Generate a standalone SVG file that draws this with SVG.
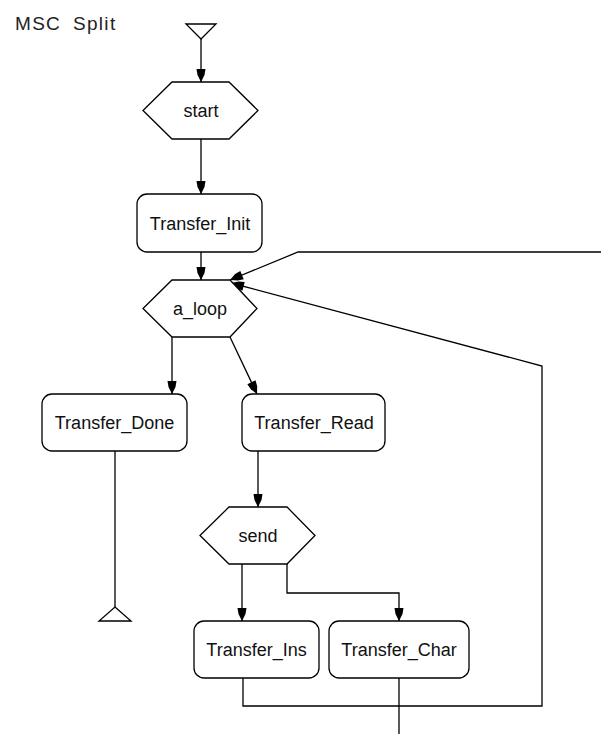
<svg xmlns="http://www.w3.org/2000/svg" width="601" height="734" viewBox="0 0 601 734">
  <style>
    .shape { fill: #fff; stroke: #000; stroke-width: 1.3; }
    .edge { fill: none; stroke: #000; stroke-width: 1.3; }
    .label { font-family: "Liberation Sans", Arial, sans-serif; font-size: 18px; fill: #111; text-anchor: middle; }
    .title { font-family: "Liberation Sans", Arial, sans-serif; font-size: 19px; fill: #222; letter-spacing: 1.3px; }
  </style>
  <defs>
    <marker id="arrow" viewBox="-15 -5 16 10" markerWidth="16" markerHeight="10" refX="0" refY="0" orient="auto" markerUnits="userSpaceOnUse">
      <path d="M0,0 L-7,-3.5 L-13,-4.5 L-13,4.5 L-7,3.5 Z" fill="#000"/>
    </marker>
  </defs>
  <rect width="601" height="734" fill="#fff"/>

  <text class="title" x="15" y="30">MSC<tspan x="73">Split</tspan></text>

  <!-- connectors -->
  <g id="connectors">
    <polyline class="edge" points="201,39 201,82" marker-end="url(#arrow)"/>
    <polyline class="edge" points="201,139 201,194" marker-end="url(#arrow)"/>
    <polyline class="edge" points="201,252 201,280" marker-end="url(#arrow)"/>
    <polyline class="edge" points="601,252 298,252 230,280" marker-end="url(#arrow)"/>
    <polyline class="edge" points="243,678 243,706 542,706 542,366 231,283" marker-end="url(#arrow)"/>
    <polyline class="edge" points="399,678 399,734"/>
    <polyline class="edge" points="172,337 172,394" marker-end="url(#arrow)"/>
    <polyline class="edge" points="230,337 257,394" marker-end="url(#arrow)"/>
    <polyline class="edge" points="115,451 115,608"/>
    <polyline class="edge" points="258,451 258,507" marker-end="url(#arrow)"/>
    <polyline class="edge" points="242,564 242,621" marker-end="url(#arrow)"/>
    <polyline class="edge" points="287,564 287,593 399,593 399,621" marker-end="url(#arrow)"/>
  </g>

  <!-- nodes -->
  <g id="start_symbol">
    <polygon class="shape" points="186,24 216,24 201,39"/>
  </g>
  <g id="start">
    <polygon class="shape" points="172,82 229,82 258,110.5 229,139 172,139 143,110.5"/>
    <text class="label" x="201" y="117">start</text>
  </g>
  <g id="Transfer_Init">
    <rect class="shape" x="137" y="194" width="125" height="58" rx="10"/>
    <text class="label" x="200" y="230">Transfer_Init</text>
  </g>
  <g id="a_loop">
    <polygon class="shape" points="172,280 230,280 257,308.5 230,337 172,337 143,308.5"/>
    <text class="label" x="200" y="315">a_loop</text>
  </g>
  <g id="Transfer_Done">
    <rect class="shape" x="42" y="394" width="145" height="57" rx="10"/>
    <text class="label" x="114.5" y="429">Transfer_Done</text>
  </g>
  <g id="Transfer_Read">
    <rect class="shape" x="242" y="394" width="143" height="57" rx="10"/>
    <text class="label" x="314" y="429">Transfer_Read</text>
  </g>
  <g id="end_symbol">
    <polygon class="shape" points="115,607 131,621 99,621"/>
  </g>
  <g id="send">
    <polygon class="shape" points="229,507 287,507 315,535.5 287,564 229,564 200,535.5"/>
    <text class="label" x="258" y="542">send</text>
  </g>
  <g id="Transfer_Ins">
    <rect class="shape" x="194" y="621" width="125" height="57" rx="10"/>
    <text class="label" x="256.5" y="656">Transfer_Ins</text>
  </g>
  <g id="Transfer_Char">
    <rect class="shape" x="329" y="621" width="140" height="57" rx="10"/>
    <text class="label" x="399" y="656">Transfer_Char</text>
  </g>
</svg>
